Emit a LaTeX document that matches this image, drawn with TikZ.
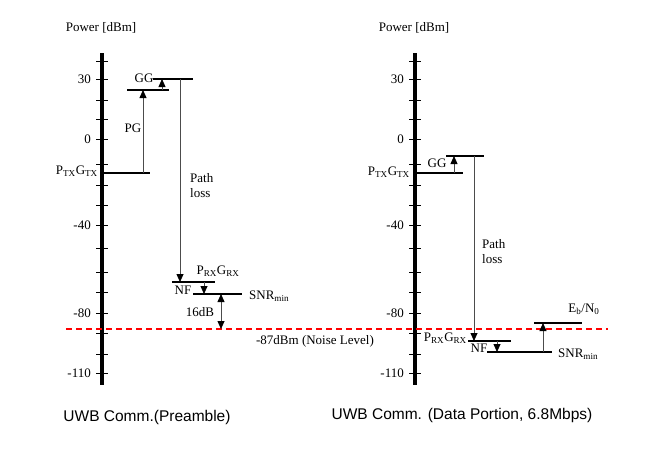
\documentclass[tikz,border=0pt]{standalone}
\usepackage{fontspec}
\setmainfont{Liberation Serif}
\setsansfont{Liberation Sans}
\usetikzlibrary{arrows.meta}

\begin{document}
\begin{tikzpicture}[
    x=1pt, y=-1pt,
    axisline/.style={line width=3.2pt},
    tickmark/.style={line width=1pt},
    levelline/.style={line width=2pt},
    gainarrow/.style={
        draw=black!70, 
        line width=0.8pt, 
        -{Triangle[width=7pt,length=8pt,color=black]}
    },
    twoarrow/.style={
        draw=black!70, 
        line width=0.8pt, 
        {Triangle[width=7pt,length=8pt,color=black]}-{Triangle[width=7pt,length=8pt,color=black]}
    },
    noiseline/.style={draw=red, line width=1.3pt, dash pattern=on 6pt off 4pt},
    lbl/.style={font=\fontsize{13}{15}\selectfont, inner sep=0pt},
    caption/.style={font=\sffamily\fontsize{15.5}{18}\selectfont, inner sep=0pt}
]
\useasboundingbox (0,0) rectangle (650,448);

% axes
\draw[axisline] (102,53) -- (102,385);
\draw[axisline] (415,53) -- (415,385);
\foreach \t in {61,79,100,119,139,164,185,205,225,248,272,292,313,333,354,373} {
    \draw[tickmark] (96,\t) -- (108,\t);
    \draw[tickmark] (409,\t) -- (421,\t);
}
\foreach \t/\v in {79/30,139/0,225/-40,313/-80,373/-110} {
    \node (lval\t) [lbl, anchor=east] at (91,\t) {\v};
    \node (rval\t) [lbl, anchor=east] at (404,\t) {\v};
}
\node (lpower) [lbl] at (101,28) {Power [dBm]};
\node (rpower) [lbl] at (414,28) {Power [dBm]};

% noise level
\coordinate (noiseA) at (66,329);
\coordinate (noiseB) at (608,329);
\draw[noiseline] (noiseA) -- (noiseB);
\node (noise) [lbl] at (315,341) {-87dBm (Noise Level)};

% preamble
\draw[levelline] (102,173) -- (150,173);
\draw[levelline] (127,90) -- (169,90);
\draw[levelline] (153,79) -- (193,79);
\draw[levelline] (172,282) -- (215,282);
\draw[levelline] (193,294) -- (242,294);

\coordinate (lpgA) at (143,173);
\coordinate (lpgB) at (143,90);
\coordinate (lggA) at (162,90);
\coordinate (lggB) at (162,79);
\coordinate (lplA) at (180,79);
\coordinate (lplB) at (180,282);
\coordinate (lnfA) at (204,282);
\coordinate (lnfB) at (204,294);
\coordinate (lmarA) at (221,294);
\coordinate (lmarB) at (221,329);

\draw[gainarrow] (lpgA) -- (lpgB);
\draw[gainarrow] (lggA) -- (lggB);
\draw[gainarrow] (lplA) -- (lplB);
\draw[gainarrow] (lnfA) -- (lnfB);
\draw[twoarrow] (lmarA) -- (lmarB);

\node (ltx) [lbl, anchor=east] at (98,171) {P\textsubscript{TX}G\textsubscript{TX}};
\node (lpg) [lbl] at (133,128) {PG};
\node (lgg) [lbl] at (144,78) {GG};
\node (lpl) [lbl, anchor=west, align=left] at (190,186) {Path\\loss};
\node (lrx) [lbl] at (218,271) {P\textsubscript{RX}G\textsubscript{RX}};
\node (lnf) [lbl] at (183,290) {NF};
\node (lsnr) [lbl, anchor=west] at (249,296) {SNR\textsubscript{min}};
\node (lmar) [lbl] at (200,312) {16dB};
\node (lcap) [caption] at (147,417) {UWB Comm.(Preamble)};

% data portion
\draw[levelline] (415,173) -- (463,173);
\draw[levelline] (446,156) -- (484,156);
\draw[levelline] (468,341) -- (511,341);
\draw[levelline] (487,352) -- (552,352);
\draw[levelline] (534,323) -- (582,323);

\coordinate (rggA) at (454,173);
\coordinate (rggB) at (454,156);
\coordinate (rplA) at (474,156);
\coordinate (rplB) at (474,341);
\coordinate (rnfA) at (497,341);
\coordinate (rnfB) at (497,352);
\coordinate (rebA) at (543,352);
\coordinate (rebB) at (543,323);

\draw[gainarrow] (rggA) -- (rggB);
\draw[gainarrow] (rplA) -- (rplB);
\draw[gainarrow] (rnfA) -- (rnfB);
\draw[gainarrow] (rebA) -- (rebB);

\node (rtx) [lbl, anchor=east] at (410,172) {P\textsubscript{TX}G\textsubscript{TX}};
\node (rgg) [lbl] at (437,163) {GG};
\node (rpl) [lbl, anchor=west, align=left] at (482,252) {Path\\loss};
\node (rrx) [lbl, anchor=east] at (467,338) {P\textsubscript{RX}G\textsubscript{RX}};
\node (rnf) [lbl] at (479,348) {NF};
\node (rsnr) [lbl, anchor=west] at (558,354) {SNR\textsubscript{min}};
\node (reb) [lbl] at (584,309) {E\textsubscript{b}/N\textsubscript{0}};
\node (rcap) [caption] at (462,415) {UWB Comm. (Data Portion, 6.8Mbps)};

\end{tikzpicture}
\end{document}
